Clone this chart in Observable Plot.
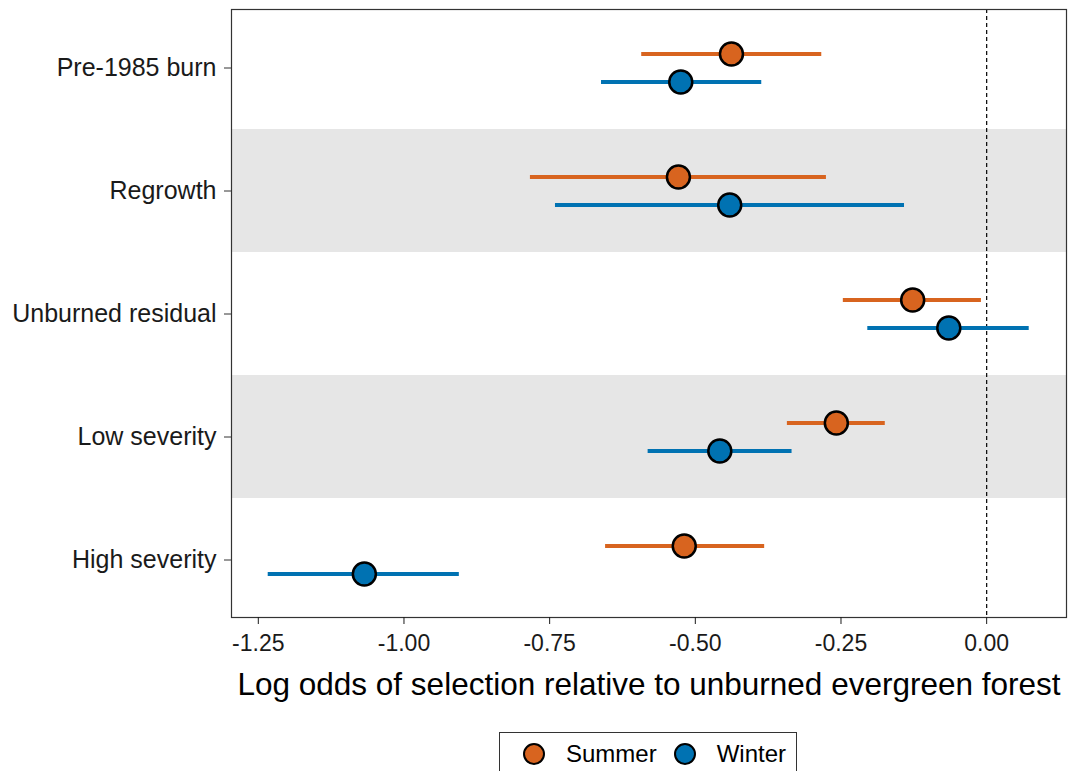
<!DOCTYPE html>
<html>
<head>
<meta charset="utf-8">
<script src="https://cdn.jsdelivr.net/npm/d3@7"></script>
<script src="https://cdn.jsdelivr.net/npm/@observablehq/plot@0.6"></script>
<style>
  body { margin: 0; background: #fff; font-family: "Liberation Sans", Arial, sans-serif; }
  #chart svg { display: block; }
  .legend {
    position: absolute; left: 499px; top: 732px; width: 298px; height: 44px;
    border: 1px solid #333; box-sizing: border-box;
    display: flex; align-items: center; justify-content: flex-start;
    padding-left: 23px; font-size: 24px; color: #000;
  }
  .legend .item { display: flex; align-items: center; }
  .legend .item + .item { margin-left: 17px; }
  .legend .swatch { width: 22px; height: 22px; border-radius: 50%; border: 2.5px solid #000; box-sizing: border-box; margin-right: 21px; }
</style>
</head>
<body>
<div id="chart"></div>
<div class="legend">
  <div class="item"><span class="swatch" style="background:#D8641F"></span>Summer</div>
  <div class="item"><span class="swatch" style="background:#0072B2"></span>Winter</div>
</div>
<script>
// Habitat classes, top to bottom
const categories = ["Pre-1985 burn", "Regrowth", "Unburned residual", "Low severity", "High severity"];

// Summer estimates and 95% intervals
const summerEst = [-0.438, -0.529, -0.127, -0.258, -0.519];
const summerLo  = [-0.592, -0.783, -0.246, -0.342, -0.654];
const summerHi  = [-0.283, -0.275, -0.009, -0.174, -0.381];

// Winter estimates and 95% intervals
const winterEst = [-0.525, -0.441, -0.065, -0.458, -1.068];
const winterLo  = [-0.661, -0.740, -0.204, -0.581, -1.233];
const winterHi  = [-0.386, -0.141, 0.073, -0.334, -0.905];

// Alternate rows shaded grey
const shadedRows = ["Regrowth", "Low severity"];

const xTicks = [-1.25, -1.00, -0.75, -0.50, -0.25, 0.00];
const xDomain = [-1.296, 0.137];
const xTitle = "Log odds of selection relative to unburned evergreen forest";

const colors = { Summer: "#D8641F", Winter: "#0072B2" };

const summer = categories.map((c, i) => ({ cat: c, est: summerEst[i], lo: summerLo[i], hi: summerHi[i] }));
const winter = categories.map((c, i) => ({ cat: c, est: winterEst[i], lo: winterLo[i], hi: winterHi[i] }));

const chart = Plot.plot({
  width: 1070,
  height: 720,
  marginLeft: 231,
  marginRight: 4,
  marginTop: 9,
  marginBottom: 103,
  style: { fontFamily: "Liberation Sans, Arial, sans-serif", color: "#1a1a1a", background: "#fff" },
  x: { domain: xDomain },
  y: { type: "band", domain: categories, padding: 0, insetTop: -3, insetBottom: -4 },
  marks: [
    Plot.barX(shadedRows, { y: d => d, x1: () => xDomain[0], x2: () => xDomain[1], fill: "#e6e6e6" }),
    Plot.ruleX([0], { stroke: "#000", strokeWidth: 1.2, strokeDasharray: "4,3" }),
    Plot.ruleY(summer, { y: "cat", x1: "lo", x2: "hi", dy: -14, stroke: colors.Summer, strokeWidth: 4 }),
    Plot.ruleY(winter, { y: "cat", x1: "lo", x2: "hi", dy: 14, stroke: colors.Winter, strokeWidth: 4 }),
    Plot.dot(summer, { y: "cat", x: "est", dy: -14, r: 11.5, fill: colors.Summer, stroke: "#000", strokeWidth: 2.5 }),
    Plot.dot(winter, { y: "cat", x: "est", dy: 14, r: 11.5, fill: colors.Winter, stroke: "#000", strokeWidth: 2.5 }),
    Plot.frame({ stroke: "#333", strokeWidth: 1.2 }),
    Plot.axisY({ label: null, tickSize: 7, tickPadding: 8, fontSize: 25, stroke: "#333" }),
    Plot.axisX({ ticks: xTicks, tickFormat: d => d.toFixed(2), label: null, tickSize: 7, tickPadding: 10, fontSize: 23 }),
    Plot.text([xTitle], { frameAnchor: "bottom", dy: 77, fontSize: 31.5, fill: "#000" })
  ]
});
document.getElementById("chart").append(chart);
</script>
</body>
</html>
